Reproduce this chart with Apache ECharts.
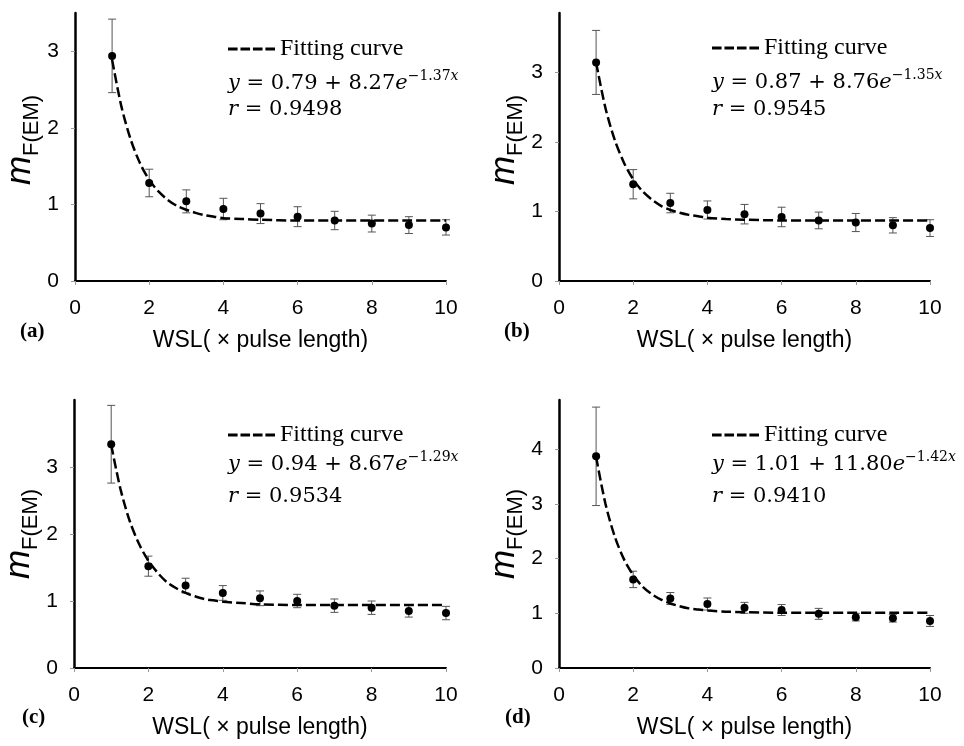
<!DOCTYPE html>
<html lang="en">

<head>
    <meta charset="UTF-8">
    <title>mF(EM) vs WSL</title>
    <script src="https://cdn.jsdelivr.net/npm/echarts@6.0.0/dist/echarts.min.js"></script>
    <style>
        body { margin: 0; background: #fff; }
    </style>
</head>

<body>
    <div id="main" style="width: 964px; height: 746px;"></div>

    <script type="text/javascript">
        // WSL values on the x axis (x pulse length)
        const wsl = [1, 2, 3, 4, 5, 6, 7, 8, 9, 10];

        const meanA = [2.94, 1.28, 1.04, 0.94, 0.88, 0.84, 0.79, 0.75, 0.73, 0.70];
        const errA = [0.48, 0.18, 0.15, 0.14, 0.13, 0.13, 0.12, 0.11, 0.11, 0.10];
        const meanB = [3.14, 1.39, 1.12, 1.02, 0.96, 0.92, 0.87, 0.84, 0.80, 0.76];
        const errB = [0.46, 0.21, 0.14, 0.13, 0.14, 0.14, 0.12, 0.13, 0.11, 0.12];
        const meanC = [3.34, 1.52, 1.23, 1.12, 1.04, 1.00, 0.93, 0.90, 0.85, 0.82];
        const errC = [0.58, 0.15, 0.11, 0.11, 0.11, 0.10, 0.10, 0.10, 0.09, 0.10];
        const meanD = [3.87, 1.62, 1.27, 1.17, 1.10, 1.06, 0.99, 0.93, 0.91, 0.86];
        const errD = [0.90, 0.15, 0.11, 0.11, 0.10, 0.10, 0.10, 0.07, 0.07, 0.10];

        const fitX = [1, 1.25, 1.5, 1.75, 2, 2.25, 2.5, 2.75, 3, 3.25, 3.5, 3.75, 4, 4.5, 5, 6, 7, 8, 9, 10];
        const fitA = [2.89, 2.28, 1.85, 1.54, 1.32, 1.17, 1.06, 0.98, 0.93, 0.89, 0.86, 0.84, 0.82, 0.81, 0.80, 0.79, 0.79, 0.79, 0.79, 0.79];
        const fitB = [3.14, 2.49, 2.03, 1.70, 1.46, 1.29, 1.17, 1.08, 1.02, 0.98, 0.95, 0.93, 0.91, 0.89, 0.88, 0.87, 0.87, 0.87, 0.87, 0.87];
        const fitC = [3.33, 2.67, 2.19, 1.85, 1.60, 1.42, 1.28, 1.19, 1.12, 1.07, 1.03, 1.01, 0.99, 0.97, 0.95, 0.94, 0.94, 0.94, 0.94, 0.94];
        const fitD = [3.86, 3.01, 2.41, 1.99, 1.70, 1.49, 1.35, 1.25, 1.18, 1.13, 1.09, 1.07, 1.05, 1.03, 1.02, 1.01, 1.01, 1.01, 1.01, 1.01];

        // equation text shown in each panel
        const eqIntercept = ['0.79', '0.87', '0.94', '1.01'];
        const eqCoef = ['8.27', '8.76', '8.67', '11.80'];
        const eqRate = ['1.37', '1.35', '1.29', '1.42'];
        const rValue = ['0.9498', '0.9545', '0.9534', '0.9410'];
        const panelTags = ['(a)', '(b)', '(c)', '(d)'];

        // y axis ranges and tick labels
        const yMax = [3.5, 3.85, 4.0, 4.9];
        const yTicks = [[0, 1, 2, 3], [0, 1, 2, 3], [0, 1, 2, 3], [0, 1, 2, 3, 4]];
        const xTicks = [0, 2, 4, 6, 8, 10];

        const means = [meanA, meanB, meanC, meanD];
        const errs = [errA, errB, errC, errD];
        const fits = [fitA, fitB, fitC, fitD];

        // layout of the 4 panels (pixels)
        const grids = [
            { left: 75, top: 13, width: 371, height: 268 },
            { left: 559, top: 13, width: 371, height: 268 },
            { left: 74, top: 400, width: 372, height: 268 },
            { left: 559, top: 400, width: 371, height: 268 }
        ];
        const textLeft = [228, 712, 228, 712];
        const legendY = [49, 48, 435, 435];
        const eqY = [83, 82, 464, 464];
        const rY = [110, 110, 497, 497];
        const tagPos = [[20, 332], [504, 332], [22, 718], [505, 718]];
        const nameShift = [14, 14, 0, 0];

        const sans = 'Liberation Sans';
        const mathFont = 'DejaVu Serif';
        // four short dashes for the legend key
        const dashIcon = 'path://M0,0h10v3h-10z M13,0h10v3h-10z M26,0h10v3h-10z M39,0h10v3h-10z';

        let myChart = echarts.init(document.getElementById('main'));

        let xAxes = [], yAxes = [], series = [], legends = [], graphics = [];

        grids.forEach((g, i) => {
            xAxes.push({
                gridIndex: i,
                type: 'value',
                min: 0,
                max: 10,
                interval: 2,
                splitLine: { show: false },
                axisLine: { show: true, onZero: false, lineStyle: { color: '#000', width: 2 } },
                axisTick: { show: true, length: 4, customValues: xTicks, lineStyle: { color: '#999' } },
                axisLabel: { customValues: xTicks, fontSize: 21, fontFamily: sans, color: '#000', margin: 17 },
                name: 'WSL( × pulse length)',
                nameLocation: 'middle',
                nameGap: 48,
                nameTextStyle: { fontSize: 23, fontFamily: sans, color: '#000' }
            });

            yAxes.push({
                gridIndex: i,
                type: 'value',
                min: 0,
                max: yMax[i],
                interval: 1,
                splitLine: { show: false },
                axisLine: { show: true, onZero: false, lineStyle: { color: '#000', width: 2.5 } },
                axisTick: { show: true, length: 4, customValues: yTicks[i], lineStyle: { color: '#999' } },
                axisLabel: { customValues: yTicks[i], fontSize: 21, fontFamily: sans, color: '#000', margin: 16 },
                name: '{m|m}{s|F(EM)}',
                nameLocation: 'middle',
                nameGap: 30,
                nameTextStyle: {
                    padding: [0, 0, 0, nameShift[i]],
                    rich: {
                        m: { fontSize: 35, fontStyle: 'italic', fontFamily: sans, color: '#000',
                             lineHeight: 40, verticalAlign: 'bottom', padding: [0, 0, 6, 0] },
                        s: { fontSize: 22, fontFamily: sans, color: '#000',
                             lineHeight: 22, verticalAlign: 'bottom' }
                    }
                }
            });

            // error bars drawn on the panel's own axes
            series.push({
                type: 'custom',
                name: 'error',
                xAxisIndex: i,
                yAxisIndex: i,
                z: 1,
                data: wsl.map((x, j) => [x, means[i][j] - errs[i][j], means[i][j] + errs[i][j]]),
                renderItem: function (params, api) {
                    const x = api.value(0);
                    const lo = api.coord([x, api.value(1)]);
                    const hi = api.coord([x, api.value(2)]);
                    const cap = 4;
                    const style = { stroke: '#555', lineWidth: 1 };
                    return {
                        type: 'group',
                        children: [
                            { type: 'line', shape: { x1: lo[0], y1: lo[1], x2: hi[0], y2: hi[1] }, style: style },
                            { type: 'line', shape: { x1: hi[0] - cap, y1: hi[1], x2: hi[0] + cap, y2: hi[1] }, style: style },
                            { type: 'line', shape: { x1: lo[0] - cap, y1: lo[1], x2: lo[0] + cap, y2: lo[1] }, style: style }
                        ]
                    };
                }
            });

            series.push({
                type: 'line',
                name: 'Fitting curve',
                xAxisIndex: i,
                yAxisIndex: i,
                z: 2,
                smooth: 0.3,
                symbol: 'none',
                lineStyle: { color: '#000', width: 2.5, type: [10, 4] },
                itemStyle: { color: '#000' },
                data: fitX.map((x, j) => [x, fits[i][j]])
            });

            series.push({
                type: 'scatter',
                name: 'mean',
                xAxisIndex: i,
                yAxisIndex: i,
                z: 3,
                symbolSize: 8,
                itemStyle: { color: '#000', opacity: 1 },
                data: wsl.map((x, j) => [x, means[i][j]])
            });

            legends.push({
                data: [{ name: 'Fitting curve', icon: dashIcon }],
                left: textLeft[i],
                top: legendY[i] - 12,
                padding: 0,
                itemWidth: 47,
                itemHeight: 3,
                selectedMode: false,
                itemStyle: { color: '#000', borderWidth: 0 },
                textStyle: { fontFamily: 'Liberation Serif', fontSize: 24, color: '#000' }
            });

            const rich = {
                i: { fontFamily: mathFont, fontStyle: 'italic', fontSize: 21, lineHeight: 22, verticalAlign: 'bottom', fill: '#000' },
                n: { fontFamily: mathFont, fontSize: 21, lineHeight: 22, verticalAlign: 'bottom', fill: '#000' },
                sup: { fontFamily: mathFont, fontSize: 14, lineHeight: 14, verticalAlign: 'bottom', padding: [0, 0, 11, 0], fill: '#000' },
                supi: { fontFamily: mathFont, fontStyle: 'italic', fontSize: 14, lineHeight: 14, verticalAlign: 'bottom', padding: [0, 0, 11, 0], fill: '#000' }
            };

            graphics.push({
                type: 'text',
                left: textLeft[i],
                top: eqY[i] - 14,
                style: {
                    text: '{i|y}{n| = ' + eqIntercept[i] + ' + ' + eqCoef[i] + '}{i|e}{sup|−' + eqRate[i] + '}{supi|x}',
                    rich: rich
                }
            });
            graphics.push({
                type: 'text',
                left: textLeft[i],
                top: rY[i] - 11,
                style: {
                    text: '{i|r}{n| = ' + rValue[i] + '}',
                    rich: rich
                }
            });
            graphics.push({
                type: 'text',
                left: tagPos[i][0],
                top: tagPos[i][1] - 11,
                style: {
                    text: panelTags[i],
                    fontFamily: 'Liberation Serif',
                    fontWeight: 'bold',
                    fontSize: 21,
                    fill: '#000'
                }
            });
        });

        let options = {
            backgroundColor: '#fff',
            animation: false,
            grid: grids,
            xAxis: xAxes,
            yAxis: yAxes,
            legend: legends,
            graphic: graphics,
            series: series
        };

        myChart.setOption(options);

        window.addEventListener('resize', () => {
            myChart.resize();
        });
    </script>
</body>

</html>
